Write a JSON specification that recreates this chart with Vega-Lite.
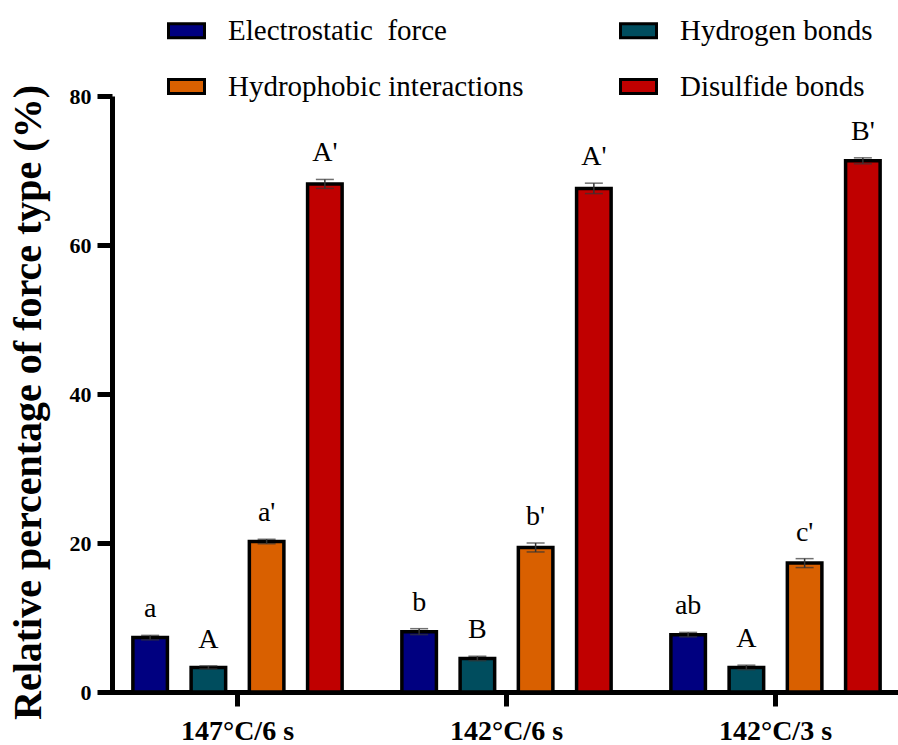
{
  "$schema": "https://vega.github.io/schema/vega-lite/v6.json",
  "width": 785,
  "height": 596,
  "autosize": "none",
  "padding": {"left": 112, "top": 96, "right": 1, "bottom": 53},
  "background": "white",
  "config": {"view": {"stroke": null}, "font": "'Liberation Serif', 'Times New Roman', Times, serif"},
  "data": {
    "values": [
      {"group": "147°C/6 s", "type": "Electrostatic \u00a0force", "value": 7.3, "err": 0.3, "letter": "a"},
      {"group": "147°C/6 s", "type": "Hydrogen bonds", "value": 3.3, "err": 0.2, "letter": "A"},
      {"group": "147°C/6 s", "type": "Hydrophobic interactions", "value": 20.2, "err": 0.3, "letter": "a'"},
      {"group": "147°C/6 s", "type": "Disulfide bonds", "value": 68.2, "err": 0.6, "letter": "A'"},
      {"group": "142°C/6 s", "type": "Electrostatic \u00a0force", "value": 8.1, "err": 0.4, "letter": "b"},
      {"group": "142°C/6 s", "type": "Hydrogen bonds", "value": 4.5, "err": 0.3, "letter": "B"},
      {"group": "142°C/6 s", "type": "Hydrophobic interactions", "value": 19.4, "err": 0.6, "letter": "b'"},
      {"group": "142°C/6 s", "type": "Disulfide bonds", "value": 67.6, "err": 0.7, "letter": "A'"},
      {"group": "142°C/3 s", "type": "Electrostatic \u00a0force", "value": 7.7, "err": 0.3, "letter": "ab"},
      {"group": "142°C/3 s", "type": "Hydrogen bonds", "value": 3.3, "err": 0.3, "letter": "A"},
      {"group": "142°C/3 s", "type": "Hydrophobic interactions", "value": 17.3, "err": 0.6, "letter": "c'"},
      {"group": "142°C/3 s", "type": "Disulfide bonds", "value": 71.3, "err": 0.4, "letter": "B'"}
    ]
  },
  "transform": [
    {"calculate": "datum.value + datum.err", "as": "hi"},
    {"calculate": "datum.value - datum.err", "as": "lo"}
  ],
  "encoding": {
    "x": {
      "field": "group",
      "type": "nominal",
      "sort": ["147°C/6 s", "142°C/6 s", "142°C/3 s"],
      "scale": {"range": [-9, 798], "paddingInner": 0, "paddingOuter": 0},
      "axis": {
        "title": null,
        "labelAngle": 0,
        "labelFont": "'Liberation Serif', 'Times New Roman', Times, serif",
        "labelFontSize": 28,
        "labelFontWeight": "bold",
        "labelColor": "black",
        "labelPadding": 11,
        "domainColor": "black",
        "domainWidth": 5,
        "tickColor": "black",
        "tickWidth": 5,
        "tickSize": 14
      }
    },
    "xOffset": {
      "field": "type",
      "type": "nominal",
      "sort": ["Electrostatic \u00a0force", "Hydrogen bonds", "Hydrophobic interactions", "Disulfide bonds"],
      "scale": {"paddingInner": 0.407, "paddingOuter": 0.513}
    }
  },
  "layer": [
    {
      "mark": {"type": "bar", "stroke": "black", "strokeWidth": 3.5},
      "encoding": {
        "y": {
          "field": "value",
          "type": "quantitative",
          "scale": {"domain": [0, 80], "nice": false},
          "axis": {
            "title": "Relative percentage of force type (%)",
            "titleFont": "'Liberation Serif', 'Times New Roman', Times, serif",
            "titleFontSize": 40,
            "titleFontWeight": "bold",
            "titleColor": "black",
            "titleX": -64,
            "titleY": 306,
            "values": [0, 20, 40, 60, 80],
            "grid": false,
            "labelFont": "'Liberation Serif', 'Times New Roman', Times, serif",
            "labelFontSize": 22,
            "labelFontWeight": "bold",
            "labelColor": "black",
            "labelPadding": 6,
            "domainColor": "black",
            "domainWidth": 5,
            "tickColor": "black",
            "tickWidth": 5,
            "tickSize": 15
          }
        },
        "color": {
          "field": "type",
          "type": "nominal",
          "scale": {
            "domain": ["Electrostatic \u00a0force", "Hydrophobic interactions", "Hydrogen bonds", "Disulfide bonds"],
            "range": ["#000080", "#d96000", "#004d5e", "#c00000"]
          },
          "legend": {
            "title": null,
            "orient": "none",
            "legendX": 55,
            "legendY": -85,
            "columns": 2,
            "columnPadding": 90,
            "rowPadding": 21,
            "padding": 0,
            "symbolType": "M-1,-0.39H1V0.39H-1Z",
            "symbolSize": 1296,
            "symbolStrokeColor": "black",
            "symbolStrokeWidth": 3,
            "symbolOpacity": 1,
            "labelFont": "'Liberation Serif', 'Times New Roman', Times, serif",
            "labelFontSize": 29,
            "labelColor": "black",
            "labelOffset": 22,
            "labelLimit": 0
          }
        }
      }
    },
    {
      "mark": {"type": "rule", "color": "#333333", "strokeWidth": 1.5},
      "encoding": {
        "y": {"field": "lo", "type": "quantitative"},
        "y2": {"field": "hi"}
      }
    },
    {
      "mark": {"type": "tick", "color": "#333333", "thickness": 1.5, "size": 18, "orient": "horizontal"},
      "encoding": {"y": {"field": "hi", "type": "quantitative"}}
    },
    {
      "mark": {"type": "tick", "color": "#333333", "thickness": 1.5, "size": 18, "orient": "horizontal"},
      "encoding": {"y": {"field": "lo", "type": "quantitative"}}
    },
    {
      "mark": {"type": "text", "font": "'Liberation Serif', 'Times New Roman', Times, serif", "fontSize": 28, "color": "black", "baseline": "alphabetic", "dy": -18},
      "encoding": {
        "y": {"field": "hi", "type": "quantitative"},
        "text": {"field": "letter"}
      }
    }
  ]
}
